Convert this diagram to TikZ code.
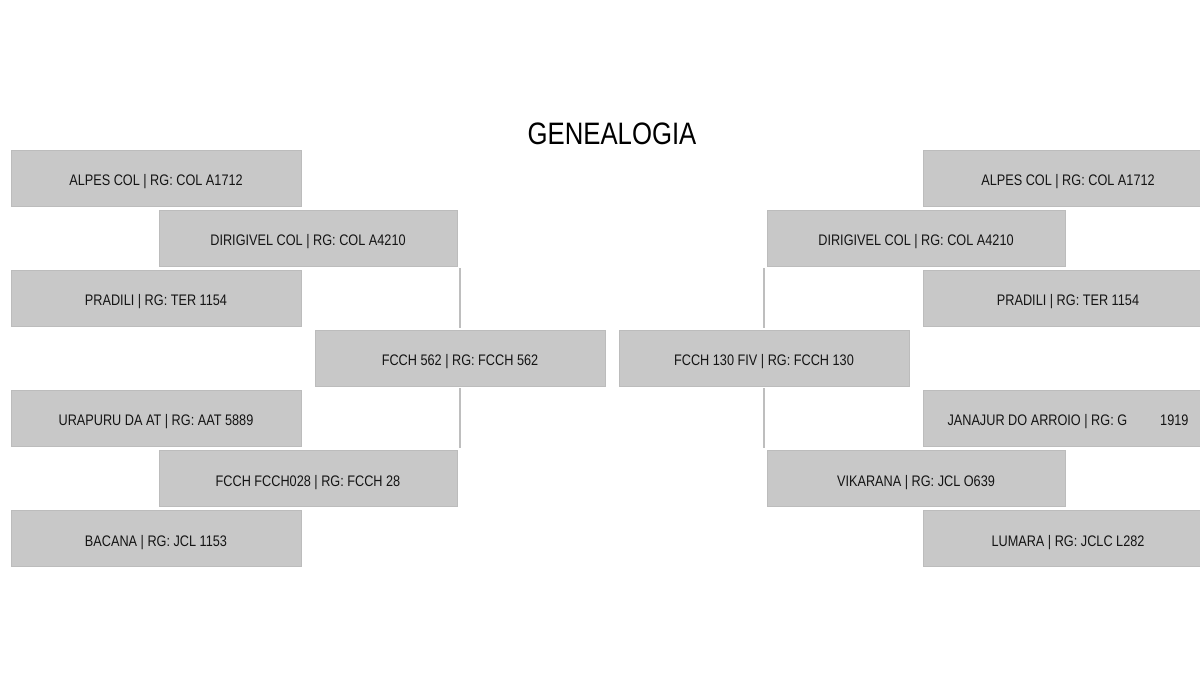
\documentclass[tikz,border=0pt]{standalone}
\usepackage{fontspec}
\setmainfont{Liberation Sans}[FakeStretch=0.83]
\usetikzlibrary{calc}
\definecolor{boxgray}{RGB}{200,200,200}
\definecolor{boxedge}{RGB}{188,188,188}
\definecolor{linegray}{RGB}{190,190,190}
\begin{document}
\begin{tikzpicture}[x=1pt,y=-1pt,
  pbox/.style={draw=boxedge, fill=boxgray, line width=0.8pt, minimum width=290pt, minimum height=56pt, inner sep=0pt, text height=16pt, text depth=0pt, font=\fontsize{15.3}{17}\selectfont, text=black!92},
  wbox/.style={pbox, minimum width=298pt},
  link/.style={draw=linegray, line width=1.2pt}]
\useasboundingbox (0,0) rectangle (1200,700);
\clip (0,0) rectangle (1200,700);
\fill[white] (0,0) rectangle (1200,700);
\node[font=\fontsize{31}{34}\selectfont, anchor=base] (title) at (612,145) {GENEALOGIA};
% left side
\node[pbox] (a1L) at (156,178) {ALPES COL | RG: COL A1712};
\node[wbox] (b1L) at (308,238) {DIRIGIVEL COL | RG: COL A4210};
\node[pbox] (a2L) at (156,298) {PRADILI | RG: TER 1154};
\node[pbox] (cL) at (460,358) {FCCH 562 | RG: FCCH 562};
\node[pbox] (a3L) at (156,418) {URAPURU DA AT | RG: AAT 5889};
\node[wbox] (b2L) at (308,478) {FCCH FCCH028 | RG: FCCH 28};
\node[pbox] (a4L) at (156,538) {BACANA | RG: JCL 1153};
% right side
\node[pbox] (a1R) at (1068,178) {ALPES COL | RG: COL A1712};
\node[wbox] (b1R) at (916,238) {DIRIGIVEL COL | RG: COL A4210};
\node[pbox] (a2R) at (1068,298) {PRADILI | RG: TER 1154};
\node[pbox] (cR) at (764,358) {FCCH 130 FIV | RG: FCCH 130};
\node[pbox] (a3R) at (1068,418) {JANAJUR DO ARROIO | RG: G\hspace{33pt}1919};
\node[wbox] (b2R) at (916,478) {VIKARANA | RG: JCL O639};
\node[pbox] (a4R) at (1068,538) {LUMARA | RG: JCLC L282};
% connectors
\draw[link] ($(cL.north)+(0,-2)$) -- ($(cL.north |- b1L.south)+(0,2)$);
\draw[link] ($(cL.south)+(0,2)$) -- ($(cL.south |- b2L.north)+(0,-2)$);
\draw[link] ($(cR.north)+(0,-2)$) -- ($(cR.north |- b1R.south)+(0,2)$);
\draw[link] ($(cR.south)+(0,2)$) -- ($(cR.south |- b2R.north)+(0,-2)$);
\end{tikzpicture}
\end{document}
